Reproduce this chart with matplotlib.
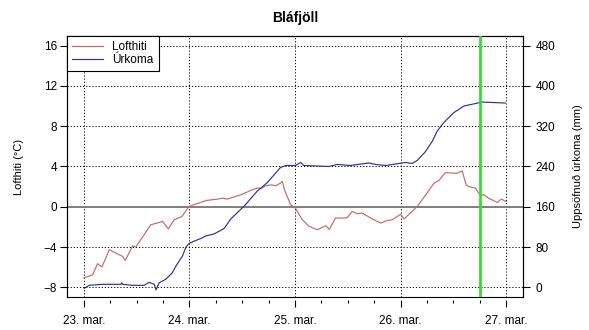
import matplotlib
matplotlib.use("Agg")
import matplotlib.pyplot as plt
from matplotlib.ticker import MultipleLocator
import numpy as np

plt.rcParams['font.family'] = ['Liberation Sans', 'DejaVu Sans']

# lofthiti: klst. frá 23. mars kl. 00, hiti í °C
temp_hours = [0, 2, 3.1, 4.1, 5.75, 8.8, 9.4, 11.1, 11.8, 15.2, 17.9, 19.2, 20.5, 22.3, 23.9,
              25.6, 27.9, 30.4, 31.5, 32.6, 35.7, 37.9, 39.4, 40.4, 41.3, 42.7, 43.6, 44.7, 45.1,
              45.6, 47.0, 48.1, 49.5, 51.0, 52.0, 53.1, 54.4, 55.0, 55.8, 57.2, 58.8, 59.8, 61.0,
              62.2, 63.3, 65.6, 67.5, 69.0, 70.1, 72.0, 72.8, 75.8, 78.0, 79.6, 80.7, 82.2, 83.7,
              84.9, 86.0, 86.9, 87.5, 89.0, 90.2, 90.9, 92.0, 94.0, 94.9, 96.0]
temp_vals = [-7.07, -6.75, -5.65, -5.98, -4.27, -4.93, -5.33, -3.87, -4.0, -1.79, -1.46, -2.2, -1.29, -0.96, 0.03,
             0.3, 0.63, 0.76, 0.86, 0.76, 1.19, 1.62, 1.85, 1.85, 2.08, 2.18, 2.08, 2.35, 2.51,
             1.69, 0.2, -0.13, -1.2, -1.88, -2.1, -2.28, -2.0, -1.88, -2.25, -1.12, -1.12, -1.1, -0.46,
             -0.69, -0.63, -1.22, -1.62, -1.36, -1.29, -0.75, -1.2, 0.03, 1.36, 2.35, 2.61, 3.4, 3.34,
             3.34, 3.57, 2.18, 2.01, 1.85, 1.09, 1.19, 0.86, 0.43, 0.76, 0.53]

# uppsöfnuð úrkoma í mm
precip_hours = [0.07, 1.2, 4.2, 8.4, 8.6, 8.8, 11.1, 13.7, 14.8, 16.0, 16.4, 17.1, 18.6, 20.1, 20.9,
                22.4, 23.2, 23.9, 25.4, 26.6, 27.7, 29.6, 31.9, 33.4, 36.4, 39.4, 41.7, 44.7,
                45.9, 48.1, 49.3, 50.0, 55.7, 57.6, 60.6, 64.8, 66.3, 68.6, 70.9, 73.1, 74.6,
                75.8, 77.7, 79.2, 80.3, 81.8, 84.1, 86.4, 89.0, 90.5, 95.8]
precip_vals = [-2, 4, 6, 6, 9, 6, 4, 4, 10, 6, -5, 9, 16, 29, 42,
               62, 80, 87, 93, 97, 102, 106, 117, 136, 161, 191, 208, 238,
               242, 242, 248, 242, 240, 244, 242, 247, 244, 242, 245, 248, 246,
               252, 270, 290, 310, 327, 347, 360, 365, 368, 366]

day_labels = ["23. mar.", "24. mar.", "25. mar.", "26. mar.", "27. mar."]
marker_hour = 90  # 26. mars kl. 18

td = np.array(temp_hours) / 24.0
pd_ = np.array(precip_hours) / 24.0

fig = plt.figure(figsize=(5.89, 3.30), dpi=100)
ax = fig.add_axes([0.1138, 0.1, 0.7742, 0.791])

xlo, xhi = -0.16, 4.16
ylo, yhi = -8.96, 16.96
ax.set_xlim(xlo, xhi)
ax.set_ylim(ylo, yhi)

for d in range(5):
    ax.axvline(d, color="black", lw=0.7, ls=(0, (1.2, 2)), zorder=1)
for t in range(-8, 17, 4):
    ax.axhline(t, color="black", lw=0.7, ls=(0, (1.2, 2)), zorder=1)
ax.axhline(0, color="#808080", lw=1.4, zorder=2)

l1, = ax.plot(td, temp_vals, color="#c46a66", lw=0.85, zorder=3, label="Lofthiti")

ax.set_xticks(range(5))
ax.set_xticklabels(day_labels)
ax.xaxis.set_minor_locator(MultipleLocator(0.25))
ax.set_yticks(range(-8, 17, 4))
ax.tick_params(axis="x", which="major", length=5, width=0.8, pad=6, labelsize=8.5)
ax.tick_params(axis="x", which="minor", length=2.3, width=0.8)
ax.tick_params(axis="y", length=5, width=0.8, labelsize=8.5, pad=2)
ax.spines["bottom"].set_position(("outward", 2.2))
ax.spines["bottom"].set_visible(False)
ax.set_ylabel("Lofthiti (°C)", fontsize=8)
ax.yaxis.set_label_coords(-0.095, 0.5)

ax2 = ax.twinx()
ax2.set_ylim((ylo + 8) * 20, (yhi + 8) * 20)
l2, = ax2.plot(pd_, precip_vals, color="#2e2e9e", lw=0.85, zorder=3, label="Úrkoma")
ax2.set_yticks(range(0, 481, 80))
ax2.tick_params(axis="y", length=5, width=0.8, labelsize=8.5, pad=4)
ax2.set_ylabel("Uppsöfnuð úrkoma (mm)", fontsize=8)
ax2.yaxis.set_label_coords(1.11, 0.5)
for s in ax2.spines.values():
    s.set_linewidth(0.8)
ax2.axvline(marker_hour / 24.0, color="#33dd33", lw=2, zorder=4)

leg = ax2.legend([l1, l2], ["Lofthiti", "Úrkoma"], loc="upper left", borderaxespad=0,
                 fontsize=8.5, handlelength=2.6, labelspacing=0.05, borderpad=0.45,
                 fancybox=False, edgecolor="black", framealpha=1)
leg.get_frame().set_linewidth(0.8)

ax.set_title("Bláfjöll", fontsize=10, fontweight="bold", pad=10)

fig.savefig("out.png", dpi=100)
